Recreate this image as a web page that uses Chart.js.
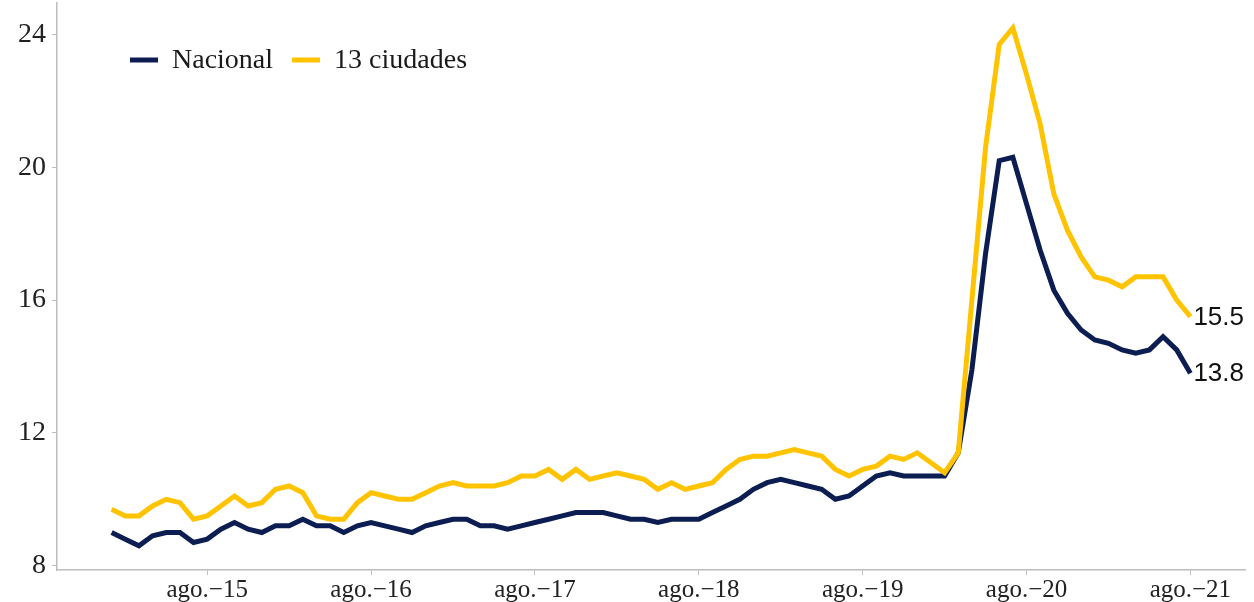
<!DOCTYPE html>
<html>
<head>
<meta charset="utf-8">
<script src="https://cdn.jsdelivr.net/npm/chart.js@4.4.1/dist/chart.umd.min.js"></script>
<style>
  body { margin: 0; background: #fff; }
</style>
</head>
<body>
<canvas id="myChart" width="1254" height="602"></canvas>
<script>
// monthly series, ene-15 .. ago-21
var monthNames = ['ene.', 'feb.', 'mar.', 'abr.', 'may.', 'jun.', 'jul.', 'ago.', 'sep.', 'oct.', 'nov.', 'dic.'];
var years = ['15', '16', '17', '18', '19', '20', '21'];
var months = [];
years.forEach(function (y) {
  monthNames.forEach(function (m) { months.push(m + '-' + y); });
});
months = months.slice(0, 80);

var nacional = [
  9.0, 8.8, 8.6, 8.9, 9.0, 9.0, 8.7, 8.8, 9.1, 9.3, 9.1, 9.0,
  9.2, 9.2, 9.4, 9.2, 9.2, 9.0, 9.2, 9.3, 9.2, 9.1, 9.0, 9.2,
  9.3, 9.4, 9.4, 9.2, 9.2, 9.1, 9.2, 9.3, 9.4, 9.5, 9.6, 9.6,
  9.6, 9.5, 9.4, 9.4, 9.3, 9.4, 9.4, 9.4, 9.6, 9.8, 10.0, 10.3,
  10.5, 10.6, 10.5, 10.4, 10.3, 10.0, 10.1, 10.4, 10.7, 10.8, 10.7, 10.7,
  10.7, 10.7, 11.4, 13.9, 17.4, 20.2, 20.3, 18.9, 17.5, 16.3, 15.6, 15.1,
  14.8, 14.7, 14.5, 14.4, 14.5, 14.9, 14.5, 13.8
];
var ciudades13 = [
  9.7, 9.5, 9.5, 9.8, 10.0, 9.9, 9.4, 9.5, 9.8, 10.1, 9.8, 9.9,
  10.3, 10.4, 10.2, 9.5, 9.4, 9.4, 9.9, 10.2, 10.1, 10.0, 10.0, 10.2,
  10.4, 10.5, 10.4, 10.4, 10.4, 10.5, 10.7, 10.7, 10.9, 10.6, 10.9, 10.6,
  10.7, 10.8, 10.7, 10.6, 10.3, 10.5, 10.3, 10.4, 10.5, 10.9, 11.2, 11.3,
  11.3, 11.4, 11.5, 11.4, 11.3, 10.9, 10.7, 10.9, 11.0, 11.3, 11.2, 11.4,
  11.1, 10.8, 11.4, 16.0, 20.6, 23.7, 24.2, 22.8, 21.3, 19.2, 18.1, 17.3,
  16.7, 16.6, 16.4, 16.7, 16.7, 16.7, 16.0, 15.5
];

var xTickIdx = [7, 19, 31, 43, 55, 67, 79];
var xTickLabels = ['ago.\u221215', 'ago.\u221216', 'ago.\u221217', 'ago.\u221218', 'ago.\u221219', 'ago.\u221220', 'ago.\u221221'];
var yTicks = [8, 12, 16, 20, 24];

var navy = '#0B1D51';
var gold = '#FFC300';
var axisGrey = '#bdbdbd';

function toPoints(arr) {
  return arr.map(function (v, i) { return { x: i, y: v, month: months[i] }; });
}

/* legend drawn inside the plot, top-left */
var insideLegend = {
  id: 'insideLegend',
  afterDraw: function (chart) {
    var ctx = chart.ctx;
    var x = chart.chartArea.left + 73;
    var y = 60;
    ctx.save();
    ctx.font = '28px "Liberation Serif", "Times New Roman", serif';
    ctx.textBaseline = 'middle';
    [1, 0].forEach(function (di) {
      var ds = chart.data.datasets[di];
      ctx.strokeStyle = ds.borderColor;
      ctx.lineWidth = 5;
      ctx.beginPath();
      ctx.moveTo(x, y);
      ctx.lineTo(x + 28, y);
      ctx.stroke();
      x += 42;
      ctx.fillStyle = '#1a1a1a';
      ctx.fillText(ds.label, x, y + 1);
      x += ctx.measureText(ds.label).width + 19;
    });
    ctx.restore();
  }
};

/* last value written at the end of each line */
var endLabels = {
  id: 'endLabels',
  afterDatasetsDraw: function (chart) {
    var ctx = chart.ctx;
    ctx.save();
    ctx.font = '26px "Liberation Sans", Arial, sans-serif';
    ctx.textBaseline = 'middle';
    ctx.fillStyle = '#111';
    chart.data.datasets.forEach(function (ds, i) {
      var meta = chart.getDatasetMeta(i);
      var last = meta.data[meta.data.length - 1];
      var v = ds.data[ds.data.length - 1].y;
      ctx.fillText(v.toFixed(1), last.x + 3, last.y + 1);
    });
    ctx.restore();
  }
};

var ctx = document.getElementById('myChart').getContext('2d');
var myChart = new Chart(ctx, {
  type: 'line',
  data: {
    datasets: [{
      label: '13 ciudades',
      data: toPoints(ciudades13),
      borderColor: gold,
      borderWidth: 5,
      pointRadius: 0,
      tension: 0,
      order: 0
    }, {
      label: 'Nacional',
      data: toPoints(nacional),
      borderColor: navy,
      borderWidth: 5,
      pointRadius: 0,
      tension: 0,
      order: 1
    }]
  },
  options: {
    responsive: false,
    animation: false,
    devicePixelRatio: 1,
    layout: { padding: { top: 3, right: 9, left: 0, bottom: 0 } },
    plugins: {
      legend: { display: false },
      tooltip: { enabled: false }
    },
    scales: {
      x: {
        type: 'linear',
        min: -4,
        max: 83,
        afterBuildTicks: function (scale) {
          scale.ticks = xTickIdx.map(function (v) { return { value: v }; });
        },
        afterFit: function (scale) {
          scale.height = 32;
          scale.paddingLeft = 0;
          scale.paddingRight = 0;
        },
        border: { display: true, color: axisGrey, width: 1.5 },
        grid: { drawOnChartArea: false, drawTicks: true, tickLength: 5, color: axisGrey },
        ticks: {
          autoSkip: false,
          maxRotation: 0,
          padding: 0,
          color: '#222',
          font: { family: '"Liberation Serif", "Times New Roman", serif', size: 25 },
          callback: function (value) { return xTickLabels[xTickIdx.indexOf(value)]; }
        }
      },
      y: {
        min: 7.87,
        max: 24.95,
        afterBuildTicks: function (scale) {
          scale.ticks = yTicks.map(function (v) { return { value: v }; });
        },
        afterFit: function (scale) {
          scale.width = 57;
          scale.paddingTop = 0;
          scale.paddingBottom = 0;
        },
        border: { display: true, color: axisGrey, width: 1.5 },
        grid: { drawOnChartArea: false, drawTicks: true, tickLength: 5, color: axisGrey },
        ticks: {
          padding: 6,
          color: '#222',
          font: { family: '"Liberation Serif", "Times New Roman", serif', size: 28 }
        }
      }
    }
  },
  plugins: [insideLegend, endLabels]
});
</script>
</body>
</html>
